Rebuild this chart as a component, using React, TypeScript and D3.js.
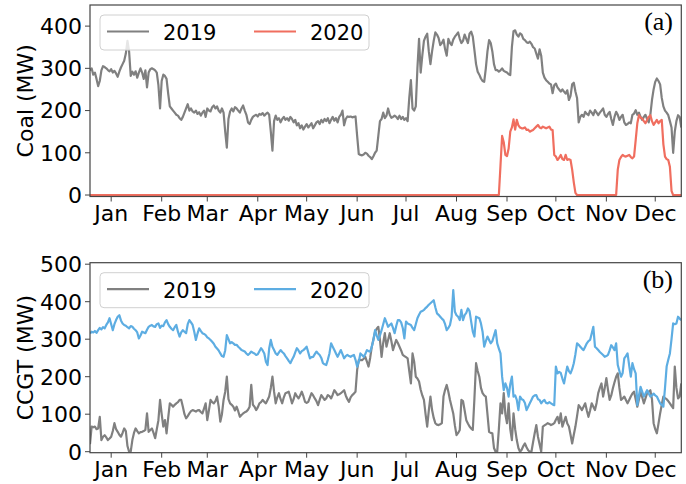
import React, { useEffect, useRef } from 'react';
import * as d3 from 'd3';

// daily values, first day = 19 Dec, last day = 17 Dec (364 days)
const coal2019 = [
  295, 300, 285, 290, 275, 258, 270, 295, 305, 303,
  300, 296, 293, 298, 290, 294, 288, 280, 292, 302,
  310, 318, 335, 365, 340, 282, 292, 285, 293, 278,
  290, 300, 290, 275, 295, 255, 290, 298, 300, 298,
  295, 290, 260, 205, 270, 285, 282, 275, 240, 210,
  205, 200, 195, 190, 188, 182, 178, 185, 195, 205,
  215, 200, 205, 198, 195, 200, 192, 196, 188, 195,
  200, 185, 205, 200, 198, 208, 212, 205, 210, 200,
  195, 205, 195, 150, 112, 180, 198, 205, 198, 208,
  205, 200, 195, 205, 212, 200, 190, 172, 168, 178,
  185, 188, 190, 186, 192, 190, 194, 188, 192, 195,
  190, 150, 105, 175, 188, 178, 182, 172, 180, 185,
  178, 182, 176, 185, 180, 172, 178, 165, 170, 158,
  165, 155, 162, 168, 160, 165, 170, 158, 165, 172,
  175, 168, 178, 172, 180, 175, 182, 170, 178, 185,
  176, 182, 172, 185, 190, 200, 165, 180, 186, 185,
  186, 184, 185, 186, 140, 97, 95, 94, 96, 100,
  98, 93, 90, 85, 92, 100, 105, 140, 175, 180,
  195, 182, 188, 205, 190, 183, 185, 188, 185, 180,
  188, 180, 185, 178, 182, 175, 230, 272, 205, 200,
  210, 300, 370, 290, 330, 365, 375, 382, 340, 310,
  340, 365, 385, 380, 372, 355, 360, 368, 345, 330,
  370, 360, 355, 368, 375, 380, 385, 370, 360, 365,
  380, 370, 360, 382, 387, 375, 343, 310, 292, 285,
  276, 270, 268, 300, 340, 367, 360, 340, 310, 296,
  296, 292, 295, 300, 294, 292, 290, 286, 284, 350,
  388, 390, 380, 375, 383, 380, 370, 367, 362, 360,
  363, 358, 350, 347, 335, 323, 345, 330, 290, 278,
  272, 268, 264, 262, 241, 260, 264, 255, 250, 245,
  250, 245, 240, 248, 225, 235, 262, 266, 245, 230,
  172, 185, 190, 185, 197, 192, 189, 200, 195, 189,
  201, 195, 189, 195, 200, 205, 190, 185, 192, 197,
  180, 166, 185, 197, 190, 178, 185, 190, 172, 166,
  168, 172, 170, 190, 193, 201, 190, 195, 185, 178,
  185, 190, 180, 172, 190, 225, 250, 268, 276, 270,
  262, 230, 210, 200, 195, 189, 175, 160, 100, 150,
  175, 189, 185, 160,
];

const coal2020 = [
  0, 0, 0, 0, 0, 0, 0, 0, 0, 0, 0, 0, 0, 0, 0, 0, 0, 0, 0, 0, 0, 0, 0, 0, 0,
  0, 0, 0, 0, 0, 0, 0, 0, 0, 0, 0, 0, 0, 0, 0, 0, 0, 0, 0, 0, 0, 0, 0, 0, 0,
  0, 0, 0, 0, 0, 0, 0, 0, 0, 0, 0, 0, 0, 0, 0, 0, 0, 0, 0, 0, 0, 0, 0, 0, 0,
  0, 0, 0, 0, 0, 0, 0, 0, 0, 0, 0, 0, 0, 0, 0, 0, 0, 0, 0, 0, 0, 0, 0, 0, 0,
  0, 0, 0, 0, 0, 0, 0, 0, 0, 0, 0, 0, 0, 0, 0, 0, 0, 0, 0, 0, 0, 0, 0, 0, 0,
  0, 0, 0, 0, 0, 0, 0, 0, 0, 0, 0, 0, 0, 0, 0, 0, 0, 0, 0, 0, 0, 0, 0, 0, 0,
  0, 0, 0, 0, 0, 0, 0, 0, 0, 0, 0, 0, 0, 0, 0, 0, 0, 0, 0, 0, 0, 0, 0, 0, 0,
  0, 0, 0, 0, 0, 0, 0, 0, 0, 0, 0, 0, 0, 0, 0, 0, 0, 0, 0, 0, 0, 0, 0, 0, 0,
  0, 0, 0, 0, 0, 0, 0, 0, 0, 0, 0, 0, 0, 0, 0, 0, 0, 0, 0, 0, 0, 0, 0, 0, 0,
  0, 0, 0, 0, 0, 0, 0, 0, 0, 0, 0, 0, 0, 0, 0, 0, 0, 0, 0, 0, 0, 0, 0, 0, 0,
  0, 0, 70, 140, 125, 95, 92, 110, 150, 160,
  179, 155, 178, 165, 160, 158, 158, 160, 154, 155,
  150, 152, 154, 158, 162, 166, 160, 158, 162, 160,
  158, 160, 162, 155, 154, 95, 91, 83, 88, 95,
  85, 83, 95, 83, 85, 83, 60, 30, 5, 0,
  0, 0, 0, 0, 0, 0, 0, 0, 0, 0, 0, 0, 0, 0, 0, 0, 0, 0, 0, 0, 0, 0, 0, 0,
  60, 83, 90, 95, 92, 91,
  93, 95, 90, 87, 91, 130, 170, 189, 183, 181,
  175, 170, 178, 185, 189, 175, 166, 172, 178, 170,
  175, 178, 120, 91, 85, 83, 67, 10, 0, 0,
  0, 0, 0, 0,
];

const ccgt2019 = [
  20, 67, 65, 67, 60, 62, 93, 31, 40, 44,
  38, 31, 35, 40, 55, 76, 60, 53, 45, 40,
  50, 62, 55, 15, 0, 0, 31, 50, 62, 55,
  49, 52, 53, 55, 58, 102, 53, 58, 62, 50,
  36, 60, 84, 138, 100, 67, 84, 49, 90, 129,
  125, 120, 125, 129, 132, 138, 138, 120, 100, 89,
  95, 102, 108, 111, 109, 107, 110, 111, 106, 102,
  115, 129, 84, 110, 138, 132, 129, 135, 147, 120,
  80, 100, 138, 160, 200, 140, 129, 125, 120, 110,
  120, 108, 93, 98, 102, 105, 107, 112, 120, 178,
  125, 120, 111, 118, 129, 132, 138, 133, 129, 138,
  147, 170, 200, 160, 129, 145, 156, 140, 129, 145,
  156, 158, 160, 145, 129, 140, 156, 148, 142, 150,
  160, 148, 133, 130, 133, 145, 156, 150, 142, 135,
  124, 138, 151, 145, 138, 142, 151, 148, 142, 152,
  164, 158, 151, 153, 156, 160, 164, 150, 140, 133,
  145, 151, 155, 160, 218, 244, 245, 244, 248, 253,
  240, 227, 250, 280, 300, 320, 328, 333, 298, 253,
  290, 316, 280, 298, 316, 295, 271, 285, 298, 290,
  280, 270, 258, 255, 252, 249, 215, 182, 262, 240,
  200, 195, 187, 165, 150, 138, 100, 67, 110, 147,
  111, 90, 76, 72, 71, 73, 76, 147, 165, 178,
  160, 138, 120, 102, 70, 44, 50, 58, 138, 135,
  110, 84, 75, 67, 62, 58, 142, 236, 215, 200,
  170, 156, 150, 147, 100, 53, 50, 49, 10, 0,
  0, 60, 129, 102, 156, 100, 76, 129, 60, 31,
  102, 60, 31, 10, 0, 5, 15, 22, 12, 4,
  0, 0, 25, 49, 71, 40, 20, 0, 67, 70,
  73, 76, 74, 71, 73, 76, 85, 93, 76, 102,
  67, 80, 93, 75, 67, 45, 22, 45, 67, 95,
  124, 118, 111, 120, 129, 110, 93, 110, 129, 120,
  111, 130, 156, 170, 182, 147, 170, 196, 165, 138,
  150, 169, 185, 200, 209, 170, 138, 142, 147, 138,
  129, 138, 147, 155, 160, 140, 120, 140, 160, 145,
  129, 142, 156, 160, 164, 140, 76, 60, 49, 75,
  102, 125, 147, 143, 140, 135, 129, 122, 116, 227,
  170, 142, 147, 182,
];

const ccgt2020 = [
  315, 320, 318, 322, 317, 324, 330, 326, 332, 329,
  338, 345, 356, 340, 324, 340, 351, 360, 364, 350,
  342, 338, 336, 332, 329, 335, 333, 328, 324, 318,
  302, 310, 320, 318, 316, 325, 333, 336, 338, 334,
  333, 340, 342, 330, 336, 335, 345, 351, 340, 333,
  328, 324, 332, 338, 320, 307, 318, 324, 320, 316,
  340, 351, 345, 338, 320, 298, 315, 329, 322, 316,
  314, 311, 305, 302, 298, 293, 288, 280, 275, 270,
  262, 255, 253, 270, 311, 300, 289, 292, 289, 285,
  285, 280, 276, 271, 269, 267, 262, 258, 262, 267,
  264, 262, 258, 260, 268, 276, 270, 262, 240, 231,
  275, 298, 280, 271, 262, 258, 265, 271, 266, 262,
  255, 249, 242, 236, 245, 253, 265, 276, 270, 262,
  268, 271, 275, 280, 265, 249, 252, 253, 260, 267,
  262, 258, 250, 236, 233, 231, 245, 262, 289, 280,
  271, 262, 253, 262, 271, 260, 249, 255, 258, 255,
  253, 256, 258, 245, 227, 240, 262, 258, 253, 260,
  271, 268, 267, 280, 298, 324, 310, 298, 310, 324,
  340, 356, 345, 333, 338, 342, 330, 316, 335, 351,
  351, 345, 330, 302, 347, 342, 340, 338, 330, 324,
  340, 356, 365, 373, 375, 378, 383, 387, 392, 396,
  400, 404, 385, 369, 365, 360, 355, 351, 340, 324,
  330, 338, 360, 431, 373, 364, 360, 351, 378, 351,
  364, 370, 382, 375, 347, 320, 307, 360, 358, 356,
  342, 320, 280, 295, 307, 298, 289, 295, 310, 324,
  289, 275, 262, 200, 164, 182, 170, 147, 180, 200,
  147, 150, 138, 111, 147, 140, 138, 130, 111, 120,
  129, 138, 147, 150, 151, 140, 138, 129, 135, 138,
  130, 129, 132, 129, 126, 124, 227, 209, 213, 210,
  195, 182, 205, 227, 215, 209, 220, 236, 260, 289,
  285, 280, 275, 271, 280, 289, 295, 298, 315, 333,
  280, 276, 271, 266, 262, 258, 253, 255, 258, 270,
  284, 278, 271, 289, 231, 215, 200, 210, 249, 255,
  262, 230, 200, 236, 220, 209, 124, 150, 173, 160,
  147, 155, 164, 155, 147, 150, 155, 150, 147, 138,
  129, 125, 120, 170, 227, 245, 262, 300, 342, 340,
  342, 360, 355, 351,
];

const coalTicks = [0, 100, 200, 300, 400];
const ccgtTicks = [0, 100, 200, 300, 400, 500];
const years = ['2019', '2020'];

const START = Date.UTC(2018, 11, 19);
const DAY = 86400000;
const GRAY = '#808080';
const RED = '#f06e5f';
const BLUE = '#5dade2';
const FONT = 'DejaVu Sans, sans-serif';

const App = () => {
  const svgRef = useRef<SVGSVGElement>(null);

  useEffect(() => {
    const svg = d3.select(svgRef.current);
    svg.selectAll('*').remove();

    const left = 90;
    const right = 681.3;
    const nDays = coal2019.length;
    const dates = d3.range(nDays).map((i) => new Date(START + i * DAY));

    const x = d3.scaleUtc()
      .domain([dates[0], dates[nDays - 1]])
      .range([left, right]);
    const months = d3.utcMonth.range(new Date(Date.UTC(2019, 0, 1)), new Date(Date.UTC(2019, 11, 2)));
    const fmt = d3.utcFormat('%b');

    const panels = [
      { top: 5, bottom: 196.5, domain: [-3.5, 450], ticks: coalTicks, a: coal2019, b: coal2020, color: RED, ylabel: 'Coal (MW)', tag: '(a)' },
      { top: 262.7, bottom: 452.7, domain: [-2.7, 504], ticks: ccgtTicks, a: ccgt2019, b: ccgt2020, color: BLUE, ylabel: 'CCGT (MW)', tag: '(b)' },
    ];

    panels.forEach((p, k) => {
      const y = d3.scaleLinear().domain(p.domain).range([p.bottom, p.top]);
      const g = svg.append('g');

      const clipId = `clip${k}`;
      g.append('clipPath').attr('id', clipId)
        .append('rect')
        .attr('x', left).attr('y', p.top)
        .attr('width', right - left).attr('height', p.bottom - p.top);

      const line = d3.line<number>()
        .x((d, i) => x(dates[i]))
        .y((d) => y(d));

      const lines = g.append('g').attr('clip-path', `url(#${clipId})`);
      [[p.a, GRAY], [p.b, p.color]].forEach(([vals, col]) => {
        lines.append('path')
          .attr('d', line(vals as number[]))
          .attr('fill', 'none')
          .attr('stroke', col as string)
          .attr('stroke-width', 2.2)
          .attr('stroke-linejoin', 'round');
      });

      // frame
      g.append('rect')
        .attr('x', left).attr('y', p.top)
        .attr('width', right - left).attr('height', p.bottom - p.top)
        .attr('fill', 'none').attr('stroke', '#444').attr('stroke-width', 1.2);

      // y axis
      p.ticks.forEach((t) => {
        g.append('line')
          .attr('x1', left - 5).attr('x2', left)
          .attr('y1', y(t)).attr('y2', y(t))
          .attr('stroke', '#444').attr('stroke-width', 1);
        g.append('text')
          .attr('x', left - 8).attr('y', y(t)).attr('dy', '0.36em')
          .attr('text-anchor', 'end')
          .attr('font-family', FONT).attr('font-size', 22)
          .text(t);
      });

      // x axis
      months.forEach((m) => {
        g.append('line')
          .attr('x1', x(m)).attr('x2', x(m))
          .attr('y1', p.bottom).attr('y2', p.bottom + 5)
          .attr('stroke', '#444').attr('stroke-width', 1);
        g.append('text')
          .attr('x', x(m)).attr('y', p.bottom + 24.5)
          .attr('text-anchor', 'middle')
          .attr('font-family', FONT).attr('font-size', 22)
          .text(fmt(m));
      });

      // y label
      const cy = (p.top + p.bottom) / 2;
      g.append('text')
        .attr('transform', `translate(33,${cy}) rotate(-90)`)
        .attr('text-anchor', 'middle')
        .attr('font-family', FONT).attr('font-size', 22)
        .text(p.ylabel);

      // legend
      const ly = p.top + 10;
      const leg = g.append('g');
      leg.append('rect')
        .attr('x', 100).attr('y', ly).attr('width', 269).attr('height', 35)
        .attr('rx', 4).attr('fill', 'white').attr('fill-opacity', 0.8)
        .attr('stroke', '#d0d0d0').attr('stroke-width', 1);
      [[107, GRAY, years[0]], [254, p.color, years[1]]].forEach(([lx, col, label]) => {
        leg.append('line')
          .attr('x1', lx as number).attr('x2', (lx as number) + 42)
          .attr('y1', ly + 16.5).attr('y2', ly + 16.5)
          .attr('stroke', col as string).attr('stroke-width', 2.2);
        leg.append('text')
          .attr('x', (lx as number) + 56).attr('y', ly + 25)
          .attr('font-family', FONT).attr('font-size', 21)
          .text(label as string);
      });

      // panel tag
      g.append('text')
        .attr('x', 673).attr('y', p.top + 25)
        .attr('text-anchor', 'end')
        .attr('font-family', 'Liberation Serif, serif').attr('font-size', 26)
        .text(p.tag);
    });
  }, []);

  return (
    <svg ref={svgRef} width={686} height={484}
      style={{ position: 'absolute', left: 0, top: 0, background: 'white' }} />
  );
};

export default App;
